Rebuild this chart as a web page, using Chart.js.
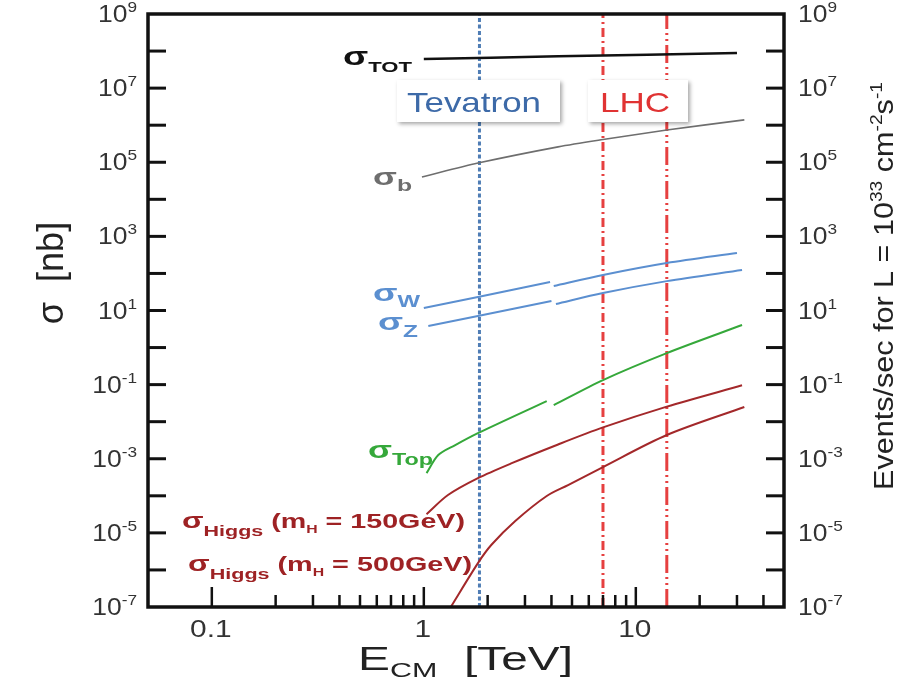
<!DOCTYPE html>
<html><head><meta charset="utf-8">
<script src="https://cdn.jsdelivr.net/npm/chart.js@4.4.1/dist/chart.umd.min.js"></script>
<style>html,body{margin:0;padding:0;background:#fff;} #wrap{width:908px;height:680px;position:relative;}</style>
</head><body><div id="wrap"><canvas id="c"></canvas></div>
<script>
const FONT = '"Liberation Sans", Arial, Helvetica, sans-serif';

// E_CM in TeV, cross section sigma in nb
const totE = [1, 4.3, 30];
const totSigma = [6.1e7, 7.2e7, 8.9e7];
const bE = [0.98, 1.8, 4.3, 7, 14, 32.5];
const bSigma = [4.0e4, 9.5e4, 2.6e5, 4.1e5, 7.4e5, 1.39e6];
const wE1 = [1.0, 1.8, 3.94];
const wSigma1 = [11.7, 23, 59];
const wE2 = [4.1, 7, 14, 30];
const wSigma2 = [46, 91, 191, 356];
const zE1 = [1.05, 1.8, 4.0];
const zSigma1 = [3.8, 7.1, 18];
const zE2 = [4.2, 7, 14, 31.7];
const zSigma2 = [15, 29.6, 62, 124];
const topE1 = [1.03, 1.17, 1.4, 1.8, 3.8];
const topSigma1 = [4.1e-4, 1.26e-3, 2.3e-3, 4.9e-3, 0.036];
const topE2 = [4.1, 7, 14, 31.7];
const topSigma2 = [0.028, 0.133, 0.71, 4.06];
const h150E = [1.03, 1.3, 1.8, 2.6, 4.3, 7, 14, 31.7];
const h150Sigma = [3.2e-5, 1.05e-4, 3.0e-4, 7.6e-4, 2.43e-3, 7.0e-3, 0.0255, 0.0958];
const h500E = [1.34, 1.8, 2.08, 2.7, 3.8, 4.79, 7, 14, 32.5];
const h500Sigma = [1e-7, 1.53e-6, 4.7e-6, 2.09e-5, 9.9e-5, 1.95e-4, 5.98e-4, 4.37e-3, 0.0249];
const colliderNames = ['Tevatron', 'LHC', 'LHC'];
const colliderE = [1.83, 7, 14];

const xRange = [0.05, 50];
const yRange = [1e-7, 1e9];
const xMajorTicks = [0.1, 1, 10];
const xMajorLabels = ['0.1', '1', '10'];
const xMinorTicks = [0.2, 0.3, 0.4, 0.5, 0.6, 0.7, 0.8, 0.9, 2, 3, 4, 5, 6, 7, 8, 9, 20, 30, 40];
const yTickExps = [-6, -5, -4, -3, -2, -1, 0, 1, 2, 3, 4, 5, 6, 7, 8];
const yLabelExps = [9, 7, 5, 3, 1, -1, -3, -5, -7];

const pts = (xs, ys) => xs.map((x, i) => ({x, y: ys[i]}));

const C_TOT = '#111111', C_B = '#6e6e6e', C_WZ = '#5b8fd0', C_TOP = '#35a83a', C_H = '#a3282a';
const C_TEV = '#4f7db5', C_LHC = 'rgba(228,48,48,0.92)';

function curve(data, color, width) {
  return {data, borderColor: color, borderWidth: width, pointRadius: 0, fill: false, tension: 0.3};
}
function vline(E, color, dash) {
  return {data: [{x: E, y: yRange[0]}, {x: E, y: yRange[1]}], borderColor: color, borderWidth: 3,
          borderDash: dash, pointRadius: 0, fill: false, tension: 0};
}

function rich(ctx, segs, x, y, o = {}) {
  let total = 0;
  for (const s of segs) {
    ctx.font = `${s.b ? 'bold ' : ''}${s.size}px ${FONT}`;
    s.w = ctx.measureText(s.t).width; total += s.w;
  }
  const k = o.width ? o.width / total : (o.k || 1);
  ctx.save();
  ctx.translate(x, y);
  if (o.rot) ctx.rotate(o.rot);
  ctx.scale(k, 1);
  let cx = o.align === 'right' ? -total : o.align === 'center' ? -total / 2 : 0;
  ctx.textBaseline = o.baseline || 'alphabetic';
  ctx.textAlign = 'left';
  for (const s of segs) {
    ctx.font = `${s.b ? 'bold ' : ''}${s.size}px ${FONT}`;
    ctx.fillStyle = s.c || o.color || '#000';
    ctx.fillText(s.t, cx, s.dy || 0);
    cx += s.w;
  }
  ctx.restore();
}

const decor = {
  id: 'decor',
  afterDatasetsDraw(chart) {
    const {ctx} = chart;
    const boxes = [
      {name: colliderNames[0], l: 397, r: 560, tl: 407, tr: 541, c: '#3d6aa8'},
      {name: colliderNames[1], l: 588, r: 688, tl: 600, tr: 670, c: '#e03333'}
    ];
    for (const b of boxes) {
      ctx.save();
      ctx.shadowColor = 'rgba(0,0,0,0.35)'; ctx.shadowBlur = 4; ctx.shadowOffsetX = 2; ctx.shadowOffsetY = 2;
      ctx.fillStyle = '#fff';
      ctx.fillRect(b.l, 80, b.r - b.l, 42);
      ctx.restore();
      rich(ctx, [{t: b.name, size: 28}], b.tl, 112, {width: b.tr - b.tl, color: b.c});
    }
  },
  afterDraw(chart) {
    const {ctx, chartArea: a, scales: {x, y}} = chart;
    ctx.save();
    ctx.strokeStyle = '#111'; ctx.lineCap = 'butt';
    const seg = (x1, y1, x2, y2) => { ctx.beginPath(); ctx.moveTo(x1, y1); ctx.lineTo(x2, y2); ctx.stroke(); };
    ctx.lineWidth = 3;
    for (const e of yTickExps) {
      const py = y.getPixelForValue(Math.pow(10, e));
      seg(a.left, py, a.left + 18, py);
      seg(a.right - 18, py, a.right, py);
    }
    ctx.lineWidth = 2.5;
    for (const v of xMajorTicks) { const px = x.getPixelForValue(v); seg(px, a.bottom, px, a.bottom - 20); }
    for (const v of xMinorTicks) { const px = x.getPixelForValue(v); seg(px, a.bottom, px, a.bottom - 12); }
    ctx.lineWidth = 3.5;
    ctx.strokeRect(a.left, a.top, a.right - a.left, a.bottom - a.top);
    ctx.restore();

    const TL = '#333';
    for (const e of yLabelExps) {
      const py = y.getPixelForValue(Math.pow(10, e));
      const segs = () => [{t: '10', size: 23}, {t: String(e), size: 15, dy: -10}];
      rich(ctx, segs(), a.left - 11, py + 8, {align: 'right', k: 1.15, color: TL});
      rich(ctx, segs(), a.right + 14, py + 8, {align: 'left', k: 1.15, color: TL});
    }
    xMajorTicks.forEach((v, i) => {
      rich(ctx, [{t: xMajorLabels[i], size: 23}], x.getPixelForValue(v) - 1, a.bottom + 30, {align: 'center', k: 1.3, color: TL});
    });

    rich(ctx, [{t: 'σ  [nb]', size: 36}], 63, 273, {rot: -Math.PI / 2, align: 'center', color: '#222'});
    rich(ctx, [{t: 'Events/sec for L = 10', size: 27}, {t: '33', size: 17, dy: -11}, {t: ' cm', size: 27},
               {t: '-2', size: 17, dy: -11}, {t: 's', size: 27}, {t: '-1', size: 17, dy: -11}],
         893, 286, {rot: -Math.PI / 2, align: 'center', width: 408, color: '#222'});
    rich(ctx, [{t: 'E', size: 33}, {t: 'CM', size: 21, dy: 7}, {t: '  [TeV]', size: 33}], 358, 670, {width: 215, color: '#222'});

    rich(ctx, [{t: 'σ', size: 25, b: 1}, {t: 'TOT', size: 15, b: 1, dy: 7}], 343, 65, {width: 69, color: C_TOT});
    rich(ctx, [{t: 'σ', size: 24, b: 1}, {t: 'b', size: 17, b: 1, dy: 6}], 373, 185, {width: 39, color: C_B});
    rich(ctx, [{t: 'σ', size: 24, b: 1}, {t: 'W', size: 16, b: 1, dy: 6}], 373, 301, {width: 47, color: C_WZ});
    rich(ctx, [{t: 'σ', size: 24, b: 1}, {t: 'Z', size: 16, b: 1, dy: 7}], 378, 330, {width: 40, color: C_WZ});
    rich(ctx, [{t: 'σ', size: 24, b: 1}, {t: 'Top', size: 16, b: 1, dy: 7}], 368, 458, {width: 65, color: C_TOP});
    const higgs = (m) => [{t: 'σ', size: 22, b: 1}, {t: 'Higgs', size: 15, b: 1, dy: 8}, {t: ' (m', size: 20, b: 1},
                          {t: 'H', size: 11, b: 1, dy: 5}, {t: ' = ' + m + 'GeV)', size: 20, b: 1}];
    rich(ctx, higgs(150), 182, 528, {width: 283, color: '#9e2224'});
    rich(ctx, higgs(500), 188, 571, {width: 284, color: '#9e2224'});
  }
};

new Chart(document.getElementById('c'), {
  type: 'line',
  data: {
    datasets: [
      curve(pts(totE, totSigma), C_TOT, 2.5),
      curve(pts(bE, bSigma), C_B, 1.6),
      curve(pts(wE1, wSigma1), C_WZ, 2),
      curve(pts(wE2, wSigma2), C_WZ, 2),
      curve(pts(zE1, zSigma1), C_WZ, 2),
      curve(pts(zE2, zSigma2), C_WZ, 2),
      curve(pts(topE1, topSigma1), C_TOP, 2),
      curve(pts(topE2, topSigma2), C_TOP, 2),
      curve(pts(h150E, h150Sigma), C_H, 2),
      curve(pts(h500E, h500Sigma), C_H, 2),
      vline(colliderE[0], C_TEV, [4, 2.5]),
      vline(colliderE[1], C_LHC, [9, 4, 2, 4]),
      vline(colliderE[2], C_LHC, [18, 4, 2, 4, 2, 4])
    ]
  },
  options: {
    responsive: true, maintainAspectRatio: false, animation: false,
    layout: {padding: {left: 148, right: 124, top: 14, bottom: 73}},
    plugins: {legend: {display: false}, tooltip: {enabled: false}},
    events: [],
    scales: {
      x: {type: 'logarithmic', min: xRange[0], max: xRange[1], grid: {display: false}, border: {display: false},
          ticks: {display: false}, afterFit: s => { s.height = 0; }},
      y: {type: 'logarithmic', min: yRange[0], max: yRange[1], grid: {display: false}, border: {display: false},
          ticks: {display: false}, afterFit: s => { s.width = 0; }}
    }
  },
  plugins: [decor]
});
</script></body></html>
